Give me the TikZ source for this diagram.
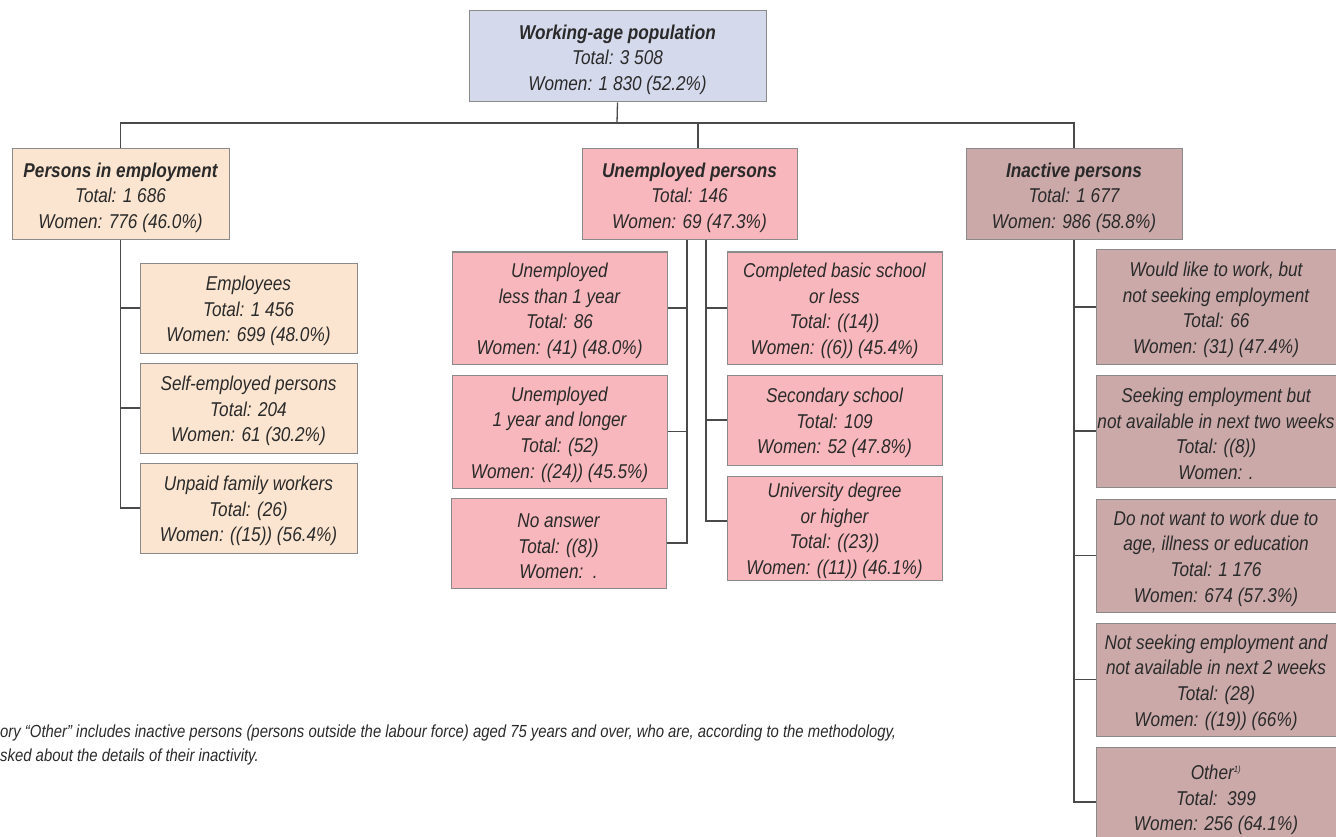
\documentclass[tikz,border=0pt]{standalone}
\usepackage{fontspec}
\setmainfont{Liberation Sans}[FakeStretch=0.86]
\newfontfamily\notefont{Liberation Sans}[FakeStretch=0.85]
\newcommand\toprl{\rule{0pt}{20.5pt}}
\definecolor{cTop}{HTML}{D5D9EC}
\definecolor{cEmp}{HTML}{FCE5D0}
\definecolor{cUne}{HTML}{F8B7BC}
\definecolor{cIna}{HTML}{CBA9A9}
\definecolor{boxline}{HTML}{8A8A8A}
\definecolor{wirec}{HTML}{4A4A4A}
\definecolor{txt}{HTML}{2A2A2A}
\tikzset{
  box/.style={draw=boxline, line width=1pt, inner sep=0pt, align=center, text=txt,
    font=\itshape\fontsize{20}{25.6}\selectfont},
  topbox/.style={box, fill=cTop},
  empbox/.style={box, fill=cEmp},
  unebox/.style={box, fill=cUne},
  inabox/.style={box, fill=cIna},
  wire/.style={draw=wirec, line width=1.3pt},
}
\begin{document}
\begin{tikzpicture}[x=1pt,y=-1pt]
\useasboundingbox (0,0) rectangle (1336,837);
\fill[white] (0,0) rectangle (1336,837);

% level 0
\node[topbox, minimum width=297pt, minimum height=91pt] (top) at (617.5,56.5)
  {\toprl{\bfseries Working-age population}\\Total: 3 508\\Women: 1 830 (52.2\%)};

% level 1
\node[empbox, minimum width=217pt, minimum height=91pt] (emp) at (120.5,194.5)
  {\toprl{\bfseries Persons in employment}\\Total: 1 686\\Women: 776 (46.0\%)};
\node[unebox, minimum width=215pt, minimum height=91pt] (une) at (689.5,194.5)
  {\toprl{\bfseries Unemployed persons}\\Total: 146\\Women: 69 (47.3\%)};
\node[inabox, minimum width=216pt, minimum height=91pt] (ina) at (1074,194.5)
  {\toprl{\bfseries Inactive persons}\\Total: 1 677\\Women: 986 (58.8\%)};

% employment children
\node[empbox, minimum width=217pt, minimum height=90pt] (e1) at (248.5,308)
  {\toprl Employees\\Total: 1 456\\Women: 699 (48.0\%)};
\node[empbox, minimum width=217pt, minimum height=90pt] (e2) at (248.5,408)
  {\toprl Self-employed persons\\Total: 204\\Women: 61 (30.2\%)};
\node[empbox, minimum width=217pt, minimum height=90pt] (e3) at (248.5,508)
  {\toprl Unpaid family workers\\Total: (26)\\Women: ((15)) (56.4\%)};

% unemployed children (left)
\node[unebox, minimum width=215pt, minimum height=112pt] (u1) at (559.5,308)
  {\toprl Unemployed\\less than 1 year\\Total: 86\\Women: (41) (48.0\%)};
\node[unebox, minimum width=215pt, minimum height=113pt] (u2) at (559.5,431.5)
  {\toprl Unemployed\\1 year and longer\\Total: (52)\\Women: ((24)) (45.5\%)};
\node[unebox, minimum width=215pt, minimum height=90pt] (u3) at (558.5,543)
  {\toprl No answer\\Total: ((8))\\Women:\ \ .};
% unemployed children (right)
\node[unebox, minimum width=215pt, minimum height=112pt] (u4) at (834.5,308)
  {\toprl Completed basic school\\or less\\Total: ((14))\\Women: ((6)) (45.4\%)};
\node[unebox, minimum width=215pt, minimum height=90pt] (u5) at (834.5,420)
  {\toprl Secondary school\\Total: 109\\Women: 52 (47.8\%)};
\node[unebox, minimum width=215pt, minimum height=104pt] (u6) at (834.5,528)
  {\toprl University degree\\or higher\\Total: ((23))\\Women: ((11)) (46.1\%)};

% inactive children
\node[inabox, minimum width=240pt, minimum height=114pt] (i1) at (1216,307)
  {\toprl Would like to work, but\\not seeking employment\\Total: 66\\Women: (31) (47.4\%)};
\node[inabox, minimum width=240pt, minimum height=112pt] (i2) at (1216,431)
  {\toprl Seeking employment but\\not available in next two weeks\\Total: ((8))\\Women: .};
\node[inabox, minimum width=240pt, minimum height=113pt] (i3) at (1216,555.5)
  {\toprl Do not want to work due to\\age, illness or education\\Total: 1 176\\Women: 674 (57.3\%)};
\node[inabox, minimum width=240pt, minimum height=113pt] (i4) at (1216,679.5)
  {\toprl Not seeking employment and\\not available in next 2 weeks\\Total: (28)\\Women: ((19)) (66\%)};
\node[inabox, minimum width=240pt, minimum height=100pt] (i5) at (1216,797)
  {\toprl Other\textsuperscript{\fontsize{9}{9}\selectfont 1)}\\Total:\ \ 399\\Women: 256 (64.1\%)};

% connectors level 0 -> 1
\coordinate (bar) at (617,123);
\coordinate (uj) at (698,123);
\draw[wire] (top.south) -- (bar);
\draw[wire] (emp.north) |- (bar) -| (ina.north);
\draw[wire] (uj) -- (uj |- une.north);

% employment
\draw[wire] (emp.south) |- (e1.west);
\draw[wire] (emp.south) |- (e2.west);
\draw[wire] (emp.south) |- (e3.west);

% unemployed
\coordinate (ul) at (687,240);
\coordinate (ur) at (706,240);
\coordinate (u6y) at (0,521);
\draw[wire] (ul) |- (u1.east);
\draw[wire] (ul) |- (u2.east);
\draw[wire] (ul) |- (u3.east);
\draw[wire] (ur) |- (u4.west);
\draw[wire] (ur) |- (u5.west);
\draw[wire] (ur) |- (u6.west |- u6y);

% inactive
\coordinate (i5y) at (0,802);
\draw[wire] (ina.south) |- (i1.west);
\draw[wire] (ina.south) |- (i2.west);
\draw[wire] (ina.south) |- (i3.west);
\draw[wire] (ina.south) |- (i4.west);
\draw[wire] (ina.south) |- (i5.west |- i5y);

% footnote (cut at the left edge in the picture)
\node[anchor=north west, inner sep=0pt, align=left, text=txt,
  font=\notefont\itshape\fontsize{17.5}{24}\selectfont] (note) at (0,725)
  {ory “Other” includes inactive persons (persons outside the labour force) aged 75 years and over, who are, according to the methodology,\\
   sked about the details of their inactivity.};
\end{tikzpicture}
\end{document}
